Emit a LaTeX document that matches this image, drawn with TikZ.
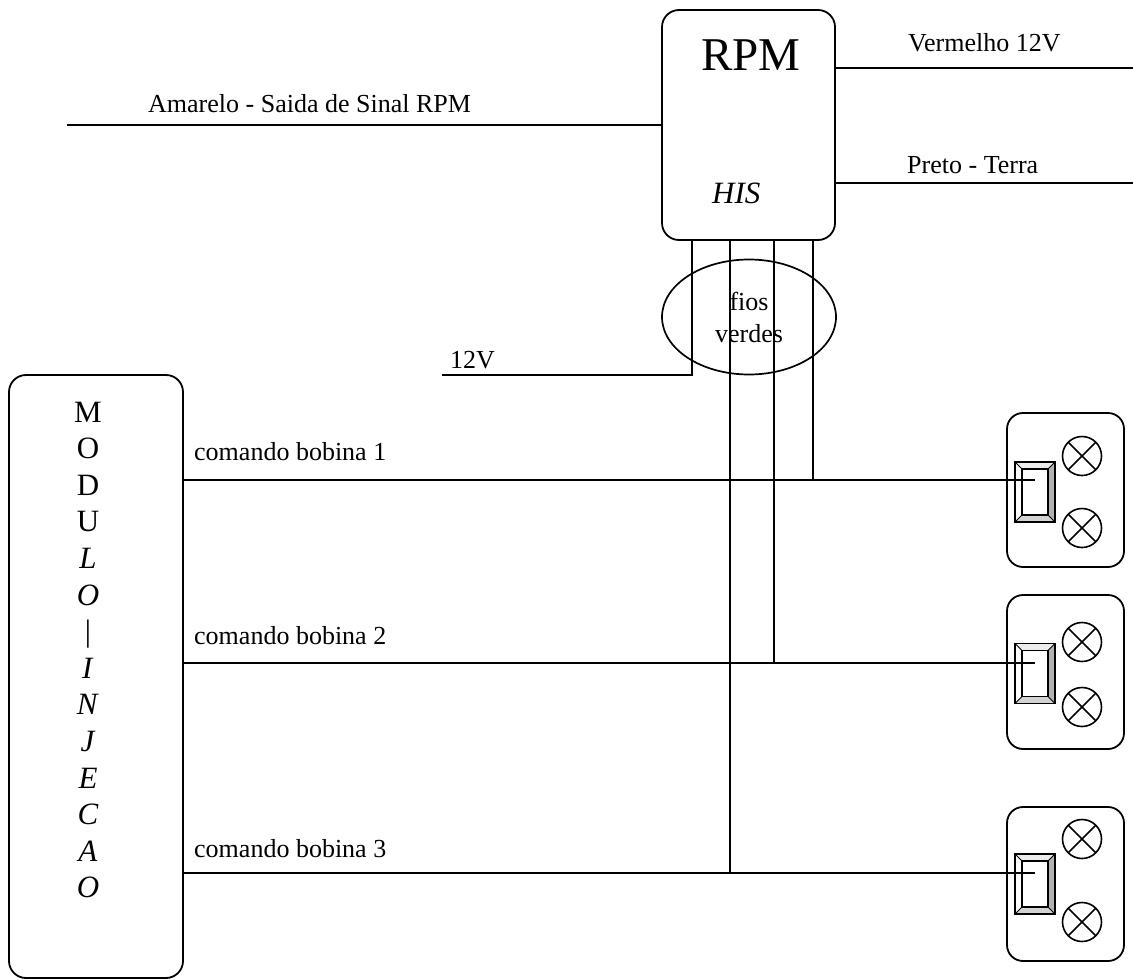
\documentclass[tikz,border=0pt]{standalone}
\usepackage{fontspec}
\setmainfont{Liberation Serif}
\usetikzlibrary{shapes.geometric}
\tikzset{
  wire/.style={line width=1.8pt},
  box/.style={draw, line width=1.8pt, rounded corners=17pt, inner sep=0pt},
  lbl/.style={inner sep=0pt, font=\fontsize{26}{32}\selectfont},
  lamp/.style={circle, draw, line width=1.6pt, minimum size=39pt, inner sep=0pt,
    path picture={\draw[line width=1.6pt] (path picture bounding box.north west) -- (path picture bounding box.south east)
      (path picture bounding box.north east) -- (path picture bounding box.south west);}},
  switchbox/.style={draw, line width=1.8pt, minimum width=40pt, minimum height=60pt, inner sep=0pt, fill=white,
    path picture={
      \fill[gray!15] (path picture bounding box.north west) -- (path picture bounding box.north east)
        -- ([shift={(-7pt,-7pt)}]path picture bounding box.north east) -- ([shift={(7pt,-7pt)}]path picture bounding box.north west) -- cycle;
      \fill[white] (path picture bounding box.north west) -- ([shift={(7pt,-7pt)}]path picture bounding box.north west)
        -- ([shift={(7pt,7pt)}]path picture bounding box.south west) -- (path picture bounding box.south west) -- cycle;
      \fill[gray!60] (path picture bounding box.north east) -- (path picture bounding box.south east)
        -- ([shift={(-7pt,7pt)}]path picture bounding box.south east) -- ([shift={(-7pt,-7pt)}]path picture bounding box.north east) -- cycle;
      \fill[gray!35] (path picture bounding box.south west) -- (path picture bounding box.south east)
        -- ([shift={(-7pt,7pt)}]path picture bounding box.south east) -- ([shift={(7pt,7pt)}]path picture bounding box.south west) -- cycle;
      \draw[line width=1.2pt] ([shift={(7pt,-7pt)}]path picture bounding box.north west) rectangle ([shift={(-7pt,7pt)}]path picture bounding box.south east);
      \draw[line width=0.8pt] (path picture bounding box.north west) -- ([shift={(7pt,-7pt)}]path picture bounding box.north west)
        (path picture bounding box.north east) -- ([shift={(-7pt,-7pt)}]path picture bounding box.north east)
        (path picture bounding box.south west) -- ([shift={(7pt,7pt)}]path picture bounding box.south west)
        (path picture bounding box.south east) -- ([shift={(-7pt,7pt)}]path picture bounding box.south east);
    }},
}
\begin{document}
\begin{tikzpicture}[x=1pt,y=-1pt]
\useasboundingbox (0,0) rectangle (1133,980);

% RPM box
\node[box, minimum width=173pt, minimum height=230pt] (rpm) at (748.5,125) {};
\node[inner sep=0pt, anchor=base, font=\fontsize{47}{47}\selectfont] (rpmt) at (751,70) {RPM};
\node[inner sep=0pt, anchor=base west, font=\fontsize{31}{31}\selectfont\itshape] (his) at (712,203) {HIS};

% module box
\node[box, minimum width=174pt, minimum height=603pt] (mod) at (96,676.5) {};
\foreach \t [count=\i] in {M,O,D,U,\textit{L},\textit{O},|,\textit{I},\textit{N},\textit{J},\textit{E},\textit{C},\textit{A},\textit{O}}
  \node[inner sep=0pt, anchor=base, font=\fontsize{31}{31}\selectfont] (ml\i) at (88,{422+36.6*(\i-1)}) {\t};

% ellipse
\node[ellipse, draw, line width=1.7pt, minimum width=174pt, minimum height=115pt, inner sep=0pt] (ell) at (749,317) {};
\node[lbl, align=center] (fv) at (749,317) {fios\\verdes};

% outer wires
\coordinate (amL) at (67,125);
\draw[wire] (amL) -- (rpm.west);
\coordinate (veR) at (1133,68);
\coordinate (prR) at (1133,183);
\draw[wire] (rpm.east |- veR) -- (veR);
\draw[wire] (rpm.east |- prR) -- (prR);
\node[lbl, anchor=base west] (amt) at (148,112) {Amarelo - Saida de Sinal RPM};
\node[lbl, anchor=base west] (vet) at (908,51) {Vermelho 12V};
\node[lbl, anchor=base west] (prt) at (907,173) {Preto - Terra};

% lamp boxes
\foreach \n/\top/\la/\lb/\sc in {1/413/456/528/492, 2/595/642/707/673.5, 3/807/839/922/884}{
  \node[box, rounded corners=16pt, minimum width=117pt, minimum height=154pt] (lb\n) at (1065.5,{\top+77}) {};
  \node[lamp] (la\n) at (1082,\la) {};
  \node[lamp] (lc\n) at (1082,\lb) {};
  \node[switchbox] (sw\n) at (1035,\sc) {};
}

% wire ends
\coordinate (e1) at (1035,480);
\coordinate (e2) at (1035,663);
\coordinate (e3) at (1035,873);
\coordinate (v0) at (442,375);
\coordinate (w1) at (692,240);
\coordinate (w2) at (730,240);
\coordinate (w3) at (774,240);
\coordinate (w4) at (813,240);

\draw[wire] (v0) -- (w1 |- v0) -- (w1);
\draw[wire] (w2) -- (w2 |- e3);
\draw[wire] (w3) -- (w3 |- e2);
\draw[wire] (w4) -- (w4 |- e1);

\draw[wire] (mod.east |- e1) -- (e1);
\draw[wire] (mod.east |- e2) -- (e2);
\draw[wire] (mod.east |- e3) -- (e3);

\node[lbl, anchor=base west] (v12) at (450,368) {12V};
\node[lbl, anchor=base west] (c1) at (194,460) {comando bobina 1};
\node[lbl, anchor=base west] (c2) at (194,644) {comando bobina 2};
\node[lbl, anchor=base west] (c3) at (194,857) {comando bobina 3};
\end{tikzpicture}
\end{document}
